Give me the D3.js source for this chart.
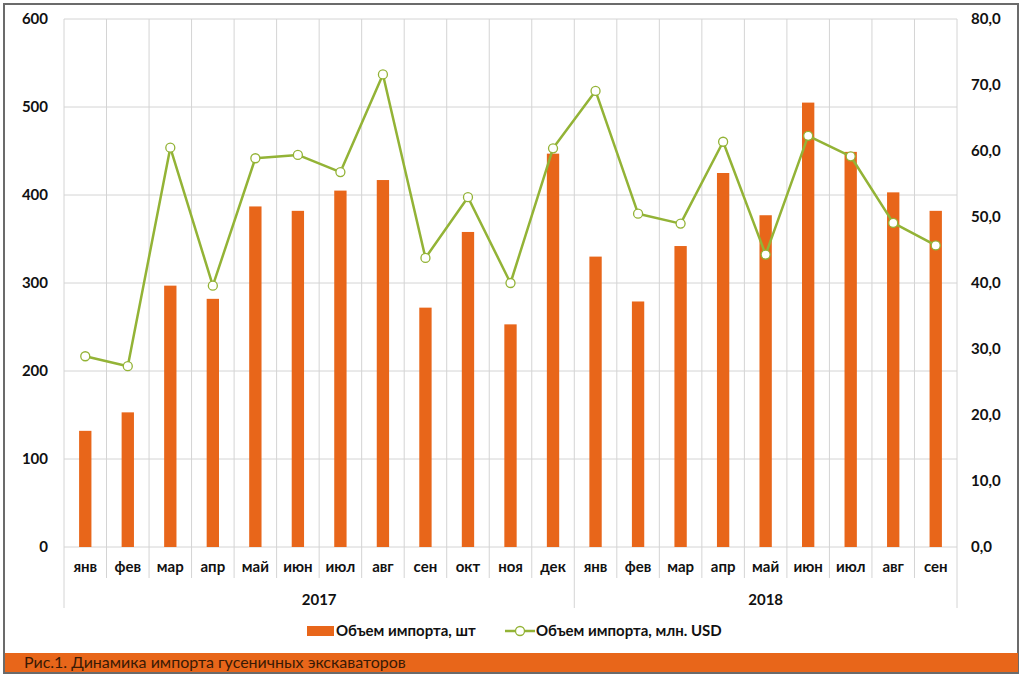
<!DOCTYPE html>
<html><head><meta charset="utf-8">
<script src="https://cdn.jsdelivr.net/npm/d3@7"></script>
<style>
html,body{margin:0;padding:0;background:#fff;}
svg{display:block;}
</style></head>
<body>
<svg id="chart" width="1024" height="679"></svg>
<script>
const months = ["янв","фев","мар","апр","май","июн","июл","авг","сен","окт","ноя","дек",
                "янв","фев","мар","апр","май","июн","июл","авг","сен"];
const years = [{label:"2017", start:0, end:12},{label:"2018", start:12, end:21}];
const unitsValues = [132,153,297,282,387,382,405,417,272,358,253,447,330,279,342,425,377,505,449,403,382];
const usdValues = [28.9,27.4,60.5,39.6,58.9,59.4,56.8,71.6,43.8,53.0,40.0,60.4,69.1,50.5,49.0,61.4,44.3,62.3,59.2,49.1,45.7];
const leftTicks = [0,100,200,300,400,500,600];
const rightTicks = [0,10,20,30,40,50,60,70,80];
const seriesNames = ["Объем импорта, шт","Объем импорта, млн. USD"];
const caption = "Рис.1. Динамика импорта гусеничных экскаваторов";

const orange = "#E8661A", green = "#93B336", grid = "#d4d4d4";
const font = "Lato, 'Open Sans', sans-serif";
const svg = d3.select("#chart");
const x0 = 64, x1 = 957, yTop = 19, yBot = 547;

// frame
svg.append("rect").attr("x",4).attr("y",4).attr("width",1014).attr("height",669)
  .attr("fill","#fff").attr("stroke","#6b6b6b").attr("stroke-width",2);

const idx = months.map((d,i)=>i);
const x = d3.scaleBand().domain(idx).range([x0,x1]).paddingInner(0).paddingOuter(0);
const yL = d3.scaleLinear().domain([0,600]).range([yBot,yTop]);
const yR = d3.scaleLinear().domain([0,80]).range([yBot,yTop]);

// horizontal gridlines
svg.append("g").selectAll("line").data(leftTicks).join("line")
  .attr("x1",x0).attr("x2",x1).attr("y1",d=>yL(d)).attr("y2",d=>yL(d))
  .attr("stroke",grid).attr("stroke-width",1);
// vertical gridlines at category boundaries
const bounds = d3.range(months.length+1);
const yearBounds = new Set([0,12,21]);
svg.append("g").selectAll("line").data(bounds).join("line")
  .attr("x1",d=>x0+d*x.step()).attr("x2",d=>x0+d*x.step())
  .attr("y1",yTop).attr("y2",d=>yearBounds.has(d)?608:578)
  .attr("stroke",grid).attr("stroke-width",1);

// bars
const bw = x.bandwidth()*0.29;
svg.append("g").selectAll("rect").data(unitsValues).join("rect")
  .attr("x",(d,i)=>x(i)+x.bandwidth()/2-bw/2).attr("width",bw)
  .attr("y",d=>yL(d)).attr("height",d=>yBot-yL(d)).attr("fill",orange);

// line
const line = d3.line().x((d,i)=>x(i)+x.bandwidth()/2).y(d=>yR(d));
svg.append("path").datum(usdValues).attr("d",line).attr("fill","none")
  .attr("stroke",green).attr("stroke-width",2.5).attr("stroke-linejoin","round");
svg.append("g").selectAll("circle").data(usdValues).join("circle")
  .attr("cx",(d,i)=>x(i)+x.bandwidth()/2).attr("cy",d=>yR(d)).attr("r",4.5)
  .attr("fill","#fff").attr("stroke",green).attr("stroke-width",1.3);

const fs = 15;
// left axis labels
svg.append("g").selectAll("text").data(leftTicks).join("text")
  .attr("x",48).attr("y",d=>yL(d)+5).attr("text-anchor","end")
  .attr("font-family",font).attr("font-weight","bold").attr("font-size",fs).attr("fill","#111")
  .text(d=>d);
// right axis labels
const fmtR = d=>d.toFixed(1).replace(".",",");
svg.append("g").selectAll("text").data(rightTicks).join("text")
  .attr("x",971).attr("y",d=>yR(d)+5).attr("text-anchor","start")
  .attr("font-family",font).attr("font-weight","bold").attr("font-size",fs).attr("fill","#111")
  .text(fmtR);

// month labels
svg.append("g").selectAll("text").data(months).join("text")
  .attr("x",(d,i)=>x(i)+x.bandwidth()/2).attr("y",572).attr("text-anchor","middle")
  .attr("font-family",font).attr("font-weight","bold").attr("font-size",fs).attr("fill","#111")
  .text(d=>d);
// year labels
svg.append("g").selectAll("text").data(years).join("text")
  .attr("x",d=>(x0+d.start*x.step()+x0+d.end*x.step())/2).attr("y",605).attr("text-anchor","middle")
  .attr("font-family",font).attr("font-weight","bold").attr("font-size",fs).attr("fill","#111")
  .text(d=>d.label);

// legend
const lg = svg.append("g");
lg.append("rect").attr("x",307).attr("y",626).attr("width",27).attr("height",10).attr("fill",orange);
lg.append("text").attr("x",336).attr("y",636).attr("font-family",font).attr("font-weight","bold")
  .attr("font-size",fs).attr("fill","#111").text(seriesNames[0]);
lg.append("line").attr("x1",505).attr("x2",535).attr("y1",631).attr("y2",631)
  .attr("stroke",green).attr("stroke-width",2.5);
lg.append("circle").attr("cx",520).attr("cy",631).attr("r",4.5).attr("fill","#fff")
  .attr("stroke",green).attr("stroke-width",1.3);
lg.append("text").attr("x",536).attr("y",636).attr("font-family",font).attr("font-weight","bold")
  .attr("font-size",fs).attr("fill","#111").text(seriesNames[1]);

// caption bar
svg.append("rect").attr("x",5).attr("y",653).attr("width",1013).attr("height",19).attr("fill",orange);
svg.append("text").attr("x",24).attr("y",668).attr("font-family",font)
  .attr("font-size",16).attr("fill","#3a1a05").text(caption);
</script>
</body></html>
